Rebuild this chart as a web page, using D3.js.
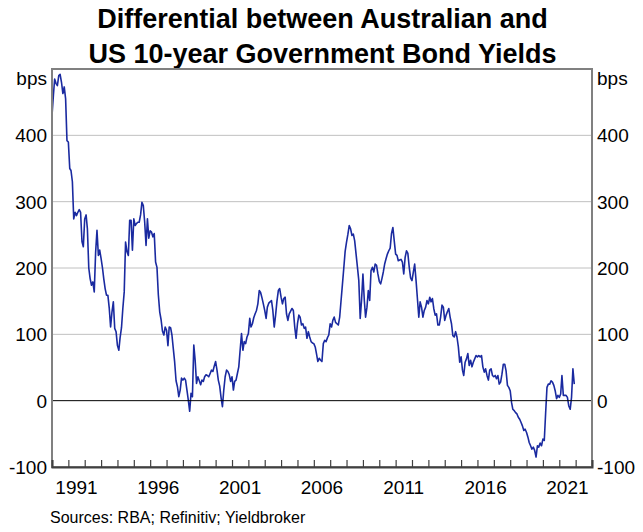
<!DOCTYPE html>
<html>
<head>
<meta charset="utf-8">
<script src="https://cdn.jsdelivr.net/npm/d3@7"></script>
<style>
  html, body { margin: 0; padding: 0; background: #fff; }
  svg { display: block; }
</style>
</head>
<body>
<div id="chart"></div>
<script>
// Differential between Australian and US 10-year government bond yields,
// monthly, in basis points.

const FIRST_MONTH = [1990, 0];   // January 1990

// one row per year, Jan..Dec
const spread = [
  430, 460, 485, 478, 475, 490, 492, 480, 463, 473, 455, 392,   // 1990
  390, 350, 347, 330, 274, 284, 279, 284, 288, 284, 240, 232,   // 1991
  274, 280, 259, 200, 184, 174, 179, 164, 224, 257, 219, 227,   // 1992
  214, 200, 184, 169, 159, 159, 140, 111, 134, 149, 109, 104,   // 1993
   83,  76,  95, 110, 139, 164, 239, 225, 219, 272, 272, 227,   // 1994
  274, 264, 267, 269, 269, 280, 299, 294, 269, 234, 274, 245,   // 1995
  256, 254, 247, 252, 209, 201, 160, 134, 122, 105,  99, 111,   // 1996
  106,  83, 111, 110,  99,  78,  58,  30,  21,   6,  16,  34,   // 1997
   31,  34,  31,  16,   1, -16,  11,   6,  84,  61,  26,  36,   // 1998
   30,  24,  31,  29,  36,  39,  38,  36,  41,  46,  44,  52,   // 1999
   59,  46,  31,  22,   5,  -9,  16,  36,  46,  44,  39,  29,   // 2000
   36,  16,  29,  31,  41,  51,  76, 101,  76,  89,  86,  96,   // 2001
  101, 124, 111, 116, 125, 131, 136, 146, 166, 163, 155, 146,   // 2002
  136, 124, 141, 147, 149, 151, 136, 111, 129, 150, 166, 169,   // 2003
  156, 146, 154, 156, 131, 121, 131, 135, 139, 136, 111,  94,   // 2004
  116, 129, 126, 114, 116, 109, 111,  94, 104,  96,  89,  87,   // 2005
   86,  81,  71,  59,  64,  61,  59,  86,  91,  89,  95,  99,   // 2006
  116, 111, 121, 126, 118, 116, 114, 126, 151, 175, 200, 225,   // 2007
  239, 251, 264, 259, 249, 251, 241, 221, 201, 181, 124, 151,   // 2008
  191, 151, 126, 141, 166, 151, 196, 201, 194, 206, 204, 191,   // 2009
  180, 176, 184, 194, 206, 214, 221, 226, 230, 252, 261, 241,   // 2010
  221, 219, 211, 212, 213, 209, 191, 216, 226, 222, 201, 185,   // 2011
  181, 194, 206, 181, 154, 126, 149, 141, 126, 136, 141, 151,   // 2012
  146, 156, 149, 154, 139, 129, 131, 114, 114, 126, 144, 141,   // 2013
  121, 129, 134, 139, 126, 116,  98,  96, 104,  96,  81,  58,   // 2014
   66,  46,  38,  58,  63,  71,  53,  61,  51,  58,  63,  68,   // 2015
   66,  68,  66,  68,  51,  43,  48,  38,  31,  46,  48,  38,   // 2016
   36,  38,  33,  38,  25,  28,  40,  55,  55,  45,  23,  20,   // 2017
   15,  -3, -13, -15, -18, -20, -25, -28, -33, -38, -45, -43,   // 2018
  -48, -55, -63, -68, -73, -70, -75, -85, -68, -70, -64, -68,   // 2019
  -58, -60, -20,  20,  25,  25,  30,  28,  23,  15,   3,   8,   // 2020
    5,  10,  38,   8,   8,   8,   5,  -8, -13,   5,  48,  25    // 2021
];

const yTicks     = [-100, 0, 100, 200, 300, 400];
const labelYears = [1991, 1996, 2001, 2006, 2011, 2016, 2021];
const xDomain    = [new Date(1990, 0, 1), new Date(2023, 0, 1)];
const yDomain    = [-100, 500];

const titleLines = [
  "Differential between Australian and",
  "US 10-year Government Bond Yields"
];
const unitLabel  = "bps";
const sourceNote = "Sources: RBA; Refinitiv; Yieldbroker";

const W    = 643;
const H    = 532;
const m    = { top: 69, right: 51, bottom: 65, left: 52 };
const FONT = "'Liberation Sans', Arial, sans-serif";

const LINE_COLOR  = "#1a2aa0";
const FRAME_COLOR = "#808080";
const GRID_COLOR  = "#c0c0c0";

const data = spread.map((v, i) => ({
  date:  d3.timeMonth.offset(new Date(FIRST_MONTH[0], FIRST_MONTH[1], 1), i),
  value: v
}));

const svg = d3.select("#chart")
  .append("svg")
    .attr("width",  W)
    .attr("height", H);

const x = d3.scaleTime()
  .domain(xDomain)
  .range([m.left, W - m.right]);

const y = d3.scaleLinear()
  .domain(yDomain)
  .range([H - m.bottom, m.top]);

// Title
svg.append("g")
  .selectAll("text")
  .data(titleLines)
  .join("text")
    .attr("x",           W / 2 + 1)
    .attr("y",           (d, i) => 28 + i * 35)
    .attr("text-anchor", "middle")
    .attr("font-family", FONT)
    .attr("font-size",   "27px")
    .attr("font-weight", "bold")
    .attr("fill",        "#000")
    .text(d => d);

// Horizontal grid lines (zero line drawn later in black)
svg.append("g")
  .selectAll("line")
  .data(yTicks.filter(t => t > yDomain[0] && t !== 0))
  .join("line")
    .attr("x1", x.range()[0]).attr("x2", x.range()[1])
    .attr("y1", d => y(d))   .attr("y2", d => y(d))
    .attr("stroke",       GRID_COLOR)
    .attr("stroke-width", 1);

// Data line
const line = d3.line()
  .x(d => x(d.date))
  .y(d => y(d.value));

svg.append("path")
  .datum(data)
  .attr("fill",            "none")
  .attr("stroke",          LINE_COLOR)
  .attr("stroke-width",    1.6)
  .attr("stroke-linejoin", "round")
  .attr("d", line);

// Zero line
svg.append("line")
  .attr("x1", x.range()[0]).attr("x2", x.range()[1])
  .attr("y1", y(0))        .attr("y2", y(0))
  .attr("stroke",       "#000")
  .attr("stroke-width", 1);

// Frame: top, left, right
svg.append("rect")
  .attr("x",      x.range()[0])
  .attr("y",      y.range()[1])
  .attr("width",  x.range()[1] - x.range()[0])
  .attr("height", y.range()[0] - y.range()[1])
  .attr("fill",   "none")
  .attr("stroke", FRAME_COLOR)
  .attr("stroke-width", 2);

// X axis: yearly ticks pointing into the plot
const xAxisG = svg.append("g")
  .attr("transform", `translate(0,${y.range()[0]})`)
  .call(
    d3.axisBottom(x)
      .ticks(d3.timeYear.every(1))
      .tickSize(-7)
      .tickFormat("")
  );

xAxisG.select(".domain").attr("stroke", "#404040").attr("stroke-width", 2);
xAxisG.selectAll(".tick line").attr("stroke", "#404040").attr("stroke-width", 1.2);

// Year labels centred in the middle of the year
svg.append("g")
  .selectAll("text")
  .data(labelYears)
  .join("text")
    .attr("x",           d => x(new Date(d, 6, 1)))
    .attr("y",           494)
    .attr("text-anchor", "middle")
    .attr("font-family", FONT)
    .attr("font-size",   "19px")
    .attr("fill",        "#000")
    .text(d => d);

// Y tick labels, both sides
[
  { xPos: x.range()[0] - 5, anchor: "end"   },
  { xPos: x.range()[1] + 5, anchor: "start" }
].forEach(side => {
  svg.append("g")
    .selectAll("text")
    .data(yTicks)
    .join("text")
      .attr("x",           side.xPos)
      .attr("y",           d => y(d))
      .attr("dy",          "0.36em")
      .attr("text-anchor", side.anchor)
      .attr("font-family", FONT)
      .attr("font-size",   "19px")
      .attr("fill",        "#000")
      .text(d => d < 0 ? "-" + Math.abs(d) : d);

  svg.append("text")
    .attr("x",           side.xPos)
    .attr("y",           y(yDomain[1]) + 16)
    .attr("text-anchor", side.anchor)
    .attr("font-family", FONT)
    .attr("font-size",   "19px")
    .attr("fill",        "#000")
    .text(unitLabel);
});

// Source note
svg.append("text")
  .attr("x",           50)
  .attr("y",           523)
  .attr("font-family", FONT)
  .attr("font-size",   "16px")
  .attr("fill",        "#000")
  .text(sourceNote);
</script>
</body>
</html>
